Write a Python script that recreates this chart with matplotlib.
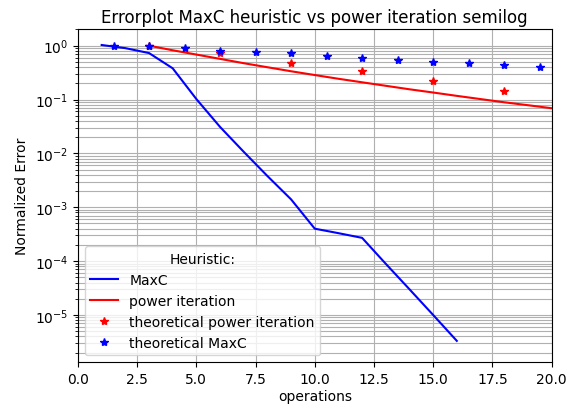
import matplotlib
matplotlib.use("Agg")
import matplotlib.pyplot as plt

# MaxC heuristic error per operation
maxc_ops = [1, 2, 3, 4, 5, 6, 7, 8, 9, 10, 11, 12, 13, 14, 15, 16]
maxc_err = [1.03, 0.9, 0.73, 0.38, 0.102, 0.031, 0.0107, 0.0038, 0.0014,
            0.0004, 0.00033, 0.00027, 8.9e-5, 3.0e-5, 1.0e-5, 3.3e-6]

# power iteration error per operation
power_ops = [3, 4, 5, 6, 7, 8, 9, 10, 11, 12, 13, 14, 15, 16, 17, 18, 19, 20]
power_err = [1.0, 0.822, 0.684, 0.569, 0.473, 0.398, 0.335, 0.285, 0.243,
             0.209, 0.180, 0.155, 0.135, 0.117, 0.102, 0.089, 0.0785, 0.069]

# theoretical bounds
theo_power_ops = [3, 6, 9, 12, 15, 18]
theo_power_err = [1.0, 0.73, 0.48, 0.335, 0.224, 0.146]

theo_maxc_ops = [1.5, 3, 4.5, 6, 7.5, 9, 10.5, 12, 13.5, 15, 16.5, 18, 19.5]
theo_maxc_err = [1.0, 0.97, 0.90, 0.81, 0.77, 0.72, 0.65, 0.59, 0.55,
                 0.505, 0.47, 0.43, 0.40]

fig = plt.figure(figsize=(5.66, 4.10), dpi=100)
ax = fig.add_axes([0.1378, 0.1139, 0.8366, 0.8129])

ax.semilogy(maxc_ops, maxc_err, "b", label="MaxC")
ax.semilogy(power_ops, power_err, "r", label="power iteration")
ax.semilogy(theo_power_ops, theo_power_err, "r*", label="theoretical power iteration")
ax.semilogy(theo_maxc_ops, theo_maxc_err, "b*", label="theoretical MaxC")

ax.set_xlim(0, 20)
ax.set_ylim(1.32e-6, 2.04)
ax.grid(True, which="major", axis="x")
ax.grid(True, which="both", axis="y")
ax.set_xlabel("operations", labelpad=2)
ax.set_ylabel("Normalized Error")
ax.set_title("Errorplot MaxC heuristic vs power iteration semilog", pad=5)
ax.legend(title="Heuristic:", loc="lower left")

fig.savefig("out.png", dpi=100)
